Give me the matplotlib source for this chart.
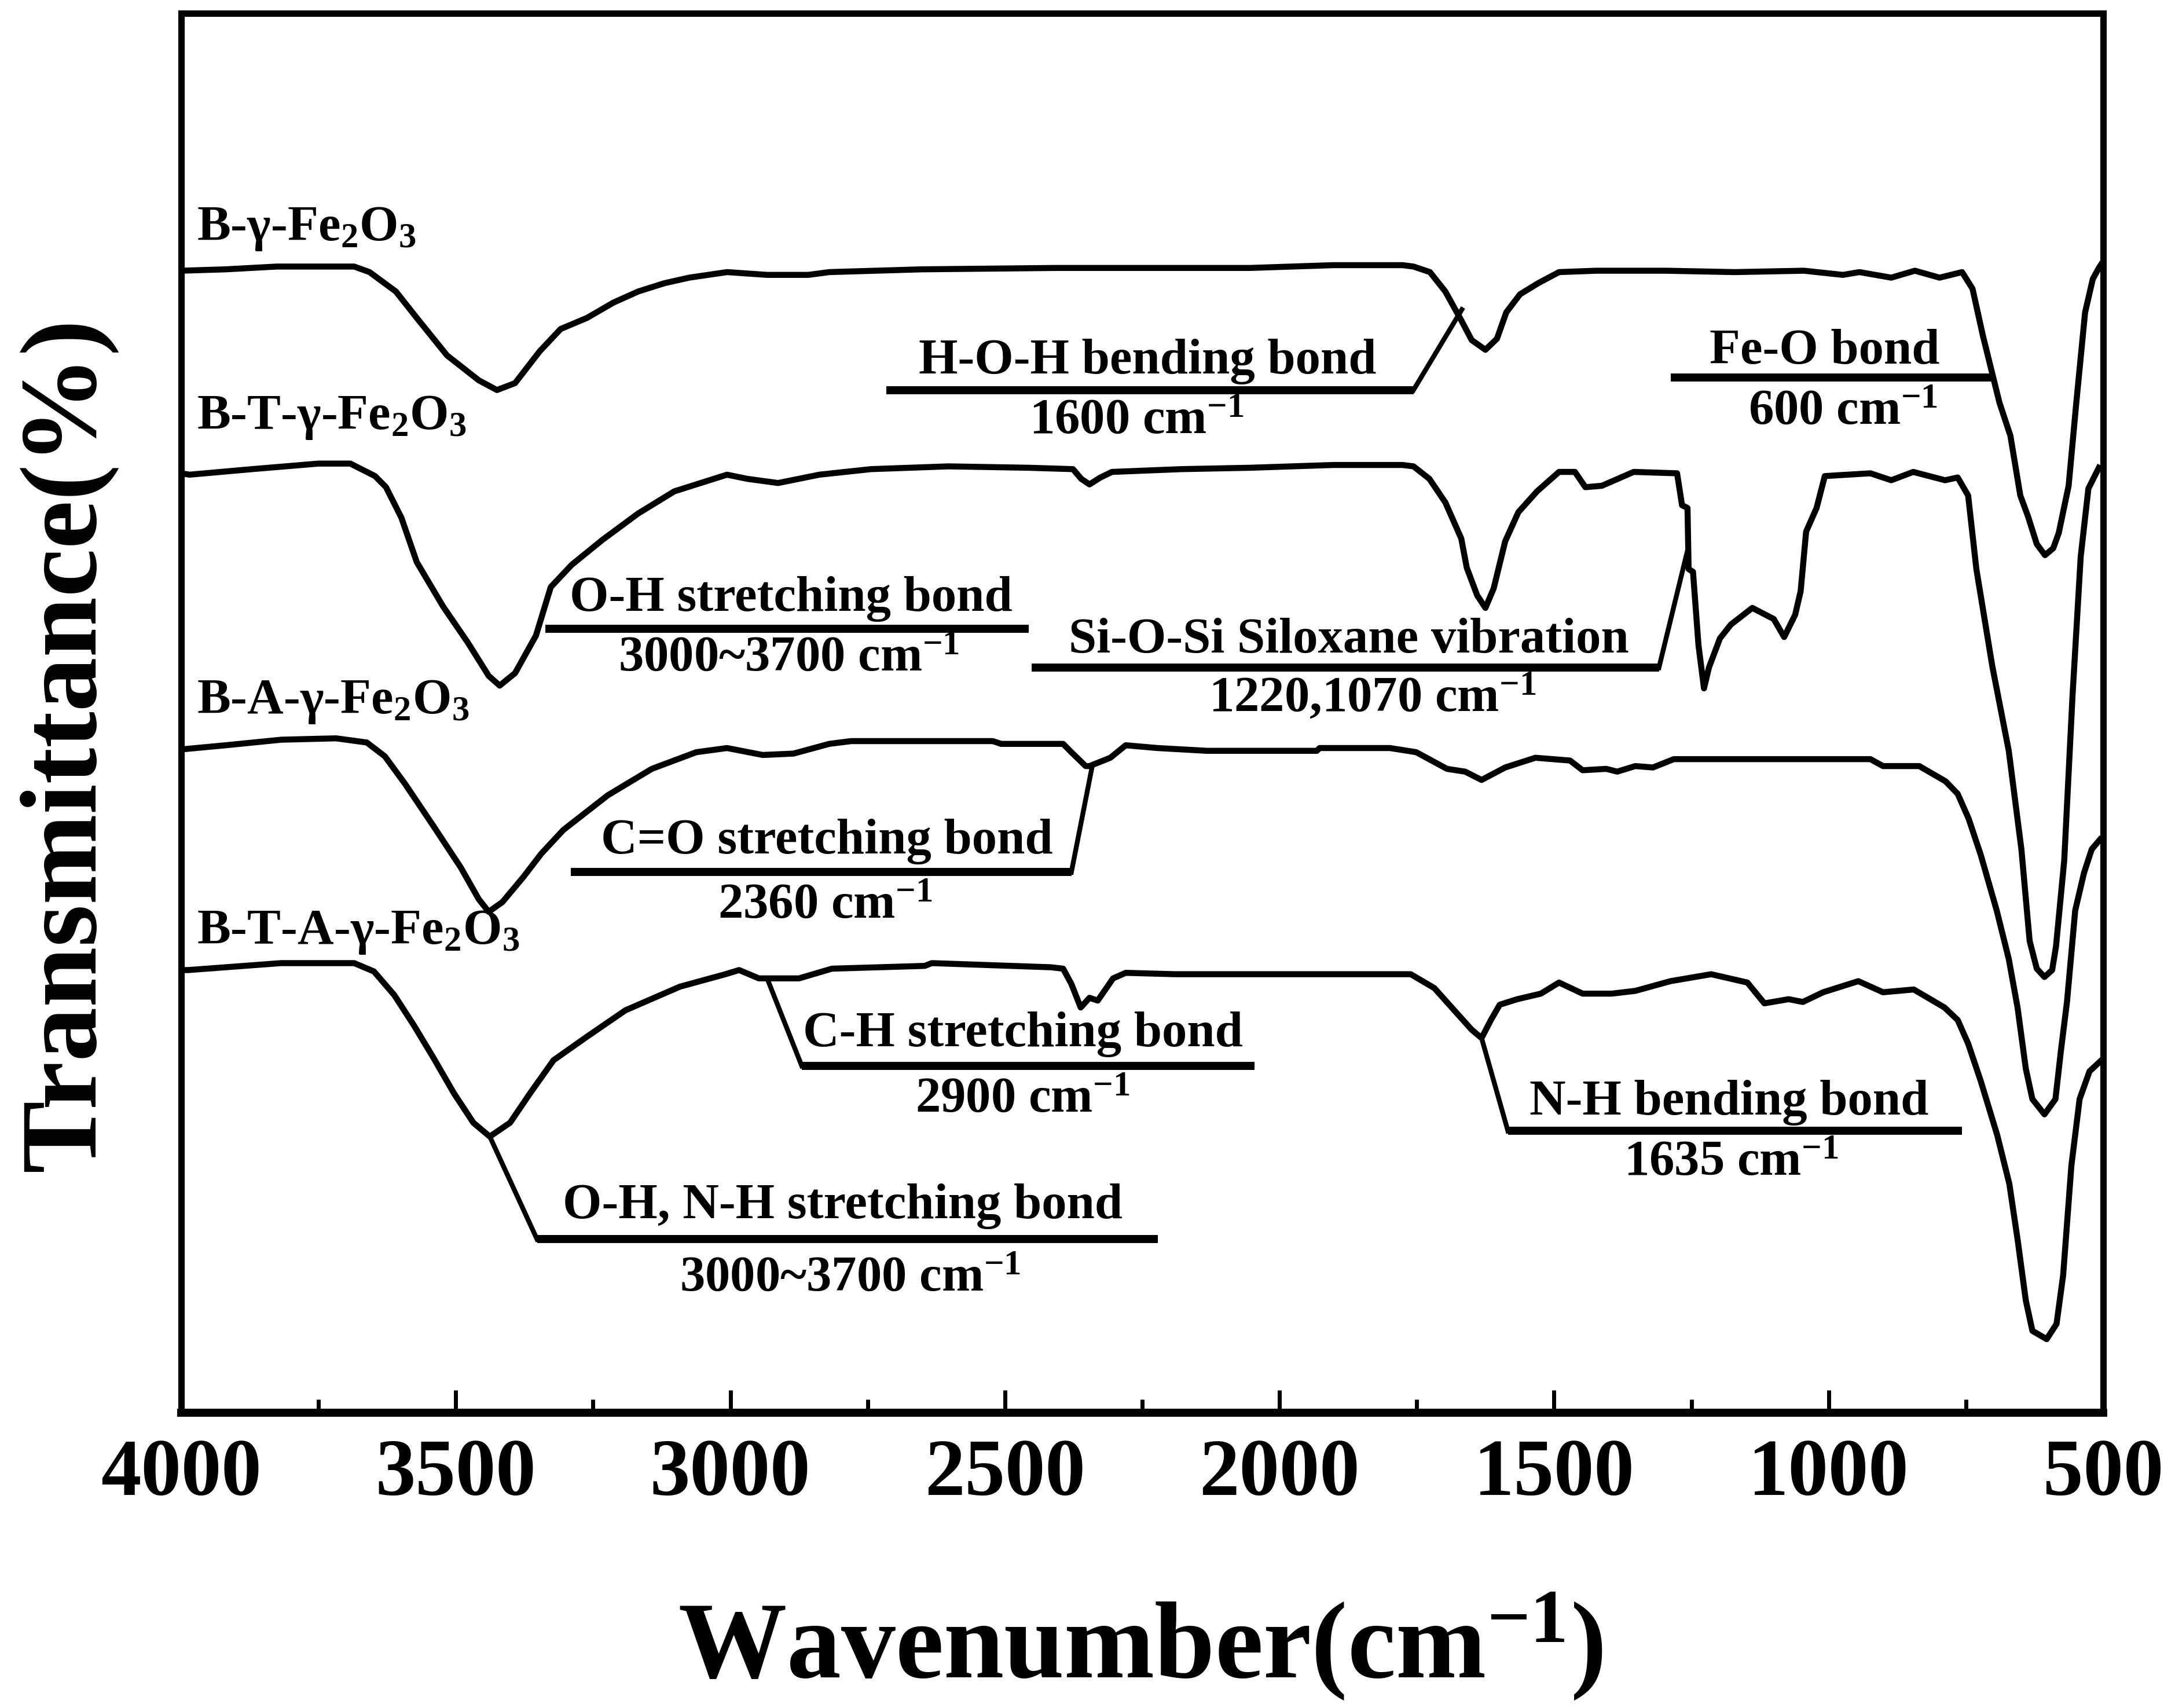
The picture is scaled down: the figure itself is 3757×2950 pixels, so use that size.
import matplotlib
matplotlib.use("Agg")
import matplotlib.pyplot as plt
from matplotlib.ticker import MultipleLocator

plt.rcParams["font.family"] = ["Liberation Serif", "DejaVu Serif"]
plt.rcParams["font.weight"] = "bold"
plt.rcParams["mathtext.fontset"] = "custom"
plt.rcParams["mathtext.rm"] = "Liberation Serif:bold"
plt.rcParams["mathtext.it"] = "Liberation Serif:bold:italic"
plt.rcParams["mathtext.bf"] = "Liberation Serif:bold"
plt.rcParams["mathtext.default"] = "rm"

# FTIR spectra (wavenumber in cm-1, stacked transmittance in a.u.)
wn_b = [4000, 3919, 3826, 3685, 3657, 3609, 3571, 3516, 3458, 3425, 3392, 3347, 3309, 3261,
        3213, 3168, 3120, 3075, 3006, 2933, 2858, 2820, 2651, 2406, 2053, 1902, 1776, 1756,
        1726, 1698, 1670, 1650, 1625, 1604, 1587, 1562, 1529, 1491, 1423, 1297, 1171, 1045,
        974, 944, 886, 843, 798, 757, 738, 719, 704, 689, 669, 651, 637, 621, 606, 591, 581,
        563, 549, 533, 519, 508, 503]
tr_b = [82.3, 82.4, 82.6, 82.6, 82.2, 80.8, 78.9, 76.2, 74.4, 73.7, 74.2, 76.5, 78.1, 78.9,
        80.0, 80.8, 81.4, 81.8, 82.2, 82.0, 82.0, 82.2, 82.4, 82.5, 82.5, 82.7, 82.7, 82.6,
        82.2, 80.8, 78.8, 77.3, 76.6, 77.4, 79.3, 80.6, 81.4, 82.2, 82.3, 82.3, 82.2, 82.3,
        82.0, 82.2, 81.8, 82.3, 81.8, 82.2, 81.0, 77.6, 75.2, 72.8, 70.4, 66.1, 64.6, 62.6,
        61.8, 62.3, 63.4, 66.8, 72.8, 79.3, 81.7, 82.5, 82.8]

wn_bt = [4000, 3985, 3871, 3750, 3692, 3647, 3627, 3599, 3571, 3523, 3478, 3440, 3420, 3392,
         3354, 3327, 3289, 3233, 3168, 3102, 3006, 2969, 2913, 2838, 2744, 2603, 2457, 2376,
         2361, 2346, 2326, 2305, 2179, 2053, 1902, 1776, 1756, 1727, 1698, 1669, 1659, 1640,
         1625, 1610, 1589, 1565, 1531, 1491, 1462, 1443, 1413, 1355, 1276, 1267, 1257, 1255,
         1247, 1237, 1227, 1218, 1198, 1178, 1139, 1100, 1081, 1061, 1051, 1041, 1022, 1007,
         924, 886, 846, 788, 765, 746, 731, 702, 672, 649, 634, 621, 607, 593, 586, 571, 556,
         541, 527, 508]
tr_bt = [67.7, 67.6, 68.0, 68.4, 68.4, 67.5, 66.7, 64.5, 61.3, 58.1, 55.5, 53.1, 52.4, 53.3,
         56.0, 59.5, 61.1, 62.9, 64.8, 66.4, 67.6, 67.3, 67.0, 67.6, 68.0, 68.2, 68.1, 68.0,
         67.3, 66.9, 67.4, 67.8, 68.0, 68.1, 68.3, 68.3, 68.2, 67.3, 65.6, 63.0, 60.9, 58.9,
         58.0, 59.4, 62.8, 64.9, 66.4, 67.8, 67.8, 66.7, 66.8, 67.8, 67.7, 65.4, 65.2, 60.8,
         60.6, 55.3, 52.2, 53.7, 55.8, 56.8, 58.0, 57.2, 55.9, 57.5, 59.2, 63.5, 65.2, 67.5,
         67.7, 67.2, 67.8, 67.2, 67.4, 66.1, 60.8, 53.8, 47.7, 40.6, 34.0, 32.0, 31.4, 31.9,
         33.6, 39.8, 51.6, 61.7, 66.6, 68.1]

wn_ba = [4000, 3919, 3818, 3718, 3662, 3629, 3592, 3541, 3491, 3458, 3440, 3415, 3377, 3344,
         3304, 3223, 3143, 3062, 3006, 2941, 2885, 2820, 2780, 2522, 2507, 2394, 2379, 2353,
         2346, 2308, 2280, 2222, 2132, 1932, 1927, 1799, 1751, 1695, 1662, 1632, 1589, 1534,
         1471, 1448, 1405, 1385, 1352, 1320, 1282, 924, 901, 835, 787, 765, 745, 723, 694,
         672, 656, 641, 629, 607, 587, 577, 566, 551, 535, 521, 506]
tr_ba = [47.8, 48.1, 48.5, 48.6, 48.3, 47.3, 45.3, 42.3, 39.3, 37.0, 36.1, 36.8, 38.6, 40.3,
         42.0, 44.5, 46.4, 47.6, 47.9, 47.4, 47.5, 48.2, 48.4, 48.4, 48.2, 48.2, 47.6, 46.6,
         46.6, 47.2, 48.1, 47.9, 47.7, 47.7, 47.9, 47.9, 47.6, 46.4, 46.2, 45.6, 46.5, 47.2,
         47.0, 46.3, 46.4, 46.2, 46.6, 46.5, 47.1, 47.1, 46.6, 46.6, 45.5, 44.6, 42.8, 40.2,
         36.2, 32.7, 29.2, 24.8, 22.6, 21.5, 22.6, 26.1, 29.6, 36.2, 38.9, 40.6, 41.3]

wn_bta = [4000, 3987, 3818, 3685, 3649, 3612, 3576, 3541, 3503, 3468, 3438, 3401, 3365, 3322,
          3261, 3191, 3092, 3009, 2984, 2948, 2875, 2815, 2646, 2633, 2416, 2394, 2379, 2362,
          2346, 2331, 2303, 2280, 2190, 1761, 1718, 1675, 1650, 1632, 1615, 1599, 1567, 1524,
          1491, 1448, 1395, 1352, 1288, 1214, 1148, 1117, 1073, 1047, 1010, 946, 901, 845, 789,
          765, 746, 723, 693, 671, 656, 641, 629, 603, 585, 573, 558, 543, 525, 506]
tr_bta = [31.9, 31.9, 32.4, 32.4, 31.8, 30.1, 27.9, 25.6, 23.0, 20.9, 19.9, 20.9, 23.0, 25.4,
          27.1, 29.0, 30.7, 31.6, 31.9, 31.3, 31.3, 32.0, 32.2, 32.4, 32.1, 32.0, 30.9, 29.2,
          29.9, 29.7, 31.3, 31.7, 31.6, 31.6, 30.6, 28.7, 27.6, 27.0, 28.3, 29.4, 29.8, 30.2,
          31.0, 30.2, 30.2, 30.4, 31.1, 31.6, 31.0, 29.5, 29.8, 29.6, 30.3, 31.1, 30.3, 30.5,
          29.2, 28.3, 26.6, 23.9, 20.0, 16.5, 12.5, 8.1, 5.9, 5.3, 6.4, 9.9, 17.8, 22.6, 24.6,
          25.3]

sample_names = ["B-γ-Fe$_2$O$_3$", "B-T-γ-Fe$_2$O$_3$",
                "B-A-γ-Fe$_2$O$_3$", "B-T-A-γ-Fe$_2$O$_3$"]
xticks = [4000, 3500, 3000, 2500, 2000, 1500, 1000, 500]

spectra = [(wn_b, tr_b), (wn_bt, tr_bt), (wn_ba, tr_ba), (wn_bta, tr_bta)]
name_y = [84.5, 70.9, 50.4, 33.8]

# band labels: title, value, x of title, x of value, y of title, y of value,
# bar (x0, x1, y), leader (x_from, x_to, y_to) or None
bands = [
    ("H-O-H bending bond", "1600 cm$^{-1}$", 2240, 2260, 74.9, 70.6,
     (2716, 1756, 73.7), (1756, 1668, 79.5)),
    ("Fe-O bond", "600 cm$^{-1}$", 1007, 974, 75.6, 71.3,
     (1287, 704, 74.6), None),
    ("O-H stretching bond", "3000~3700 cm$^{-1}$", 2890, 2894, 57.8, 53.5,
     (3337, 2457, 56.5), None),
    ("Si-O-Si Siloxane vibration", "1220,1070 cm$^{-1}$", 1874, 1831, 54.8, 50.6,
     (2451, 1309, 53.7), (1309, 1256, 62.3)),
    ("C=O stretching bond", "2360 cm$^{-1}$", 2824, 2827, 40.3, 35.7,
     (3291, 2379, 38.95), (2379, 2342, 46.4)),
    ("C-H stretching bond", "2900 cm$^{-1}$", 2467, 2468, 26.4, 21.7,
     (2870, 2046, 25.0), (2870, 2931, 31.1)),
    ("O-H, N-H stretching bond", "3000~3700 cm$^{-1}$", 2795, 2782, 14.0, 8.8,
     (3352, 2222, 12.5), (3352, 3438, 19.9)),
    ("N-H bending bond", "1635 cm$^{-1}$", 1181, 1178, 21.5, 17.1,
     (1584, 757, 20.3), (1584, 1632, 27.0)),
]

fig = plt.figure(figsize=(15.028, 11.8), dpi=250)
ax = fig.add_axes([0.0833, 0.1729, 0.8837, 0.8193])

for (wn, tr), name, ny in zip(spectra, sample_names, name_y):
    ax.plot(wn, tr, color="black", lw=3.0, solid_joinstyle="round")
    ax.text(3972, ny, name, fontsize=25, fontweight="bold", ha="left", va="baseline")

for title, value, tx, vx, ty, vy, bar, leader in bands:
    ax.plot([bar[0], bar[1]], [bar[2], bar[2]], color="black", lw=4.0,
            solid_capstyle="butt")
    if leader is not None:
        ax.plot([leader[0], leader[1]], [bar[2], leader[2]], color="black", lw=2.4)
    ax.text(tx, ty, title, fontsize=25, fontweight="bold", ha="center", va="baseline")
    ax.text(vx, vy, value, fontsize=25, fontweight="bold", ha="center", va="baseline")

ax.set_xlim(4000, 500)
ax.set_ylim(0, 100.85)
ax.set_xticks(xticks)
ax.xaxis.set_minor_locator(MultipleLocator(250))
ax.set_yticks([])
ax.tick_params(axis="x", which="major", direction="in", length=11.3, width=2,
               labelsize=40, pad=13, top=False)
ax.tick_params(axis="x", which="minor", direction="in", length=6.6, width=2, top=False)
for lab in ax.get_xticklabels():
    lab.set_fontweight("bold")
for side, sp in ax.spines.items():
    sp.set_linewidth(4.0 if side == "bottom" else 3.2)

ax.set_xlabel("Wavenumber(cm$^{-1}$)", fontsize=54, fontweight="bold", va="baseline")
ax.xaxis.set_label_coords(0.499, -0.189)
ax.set_ylabel("Transmittance(%)", fontsize=54, fontweight="bold", va="center")
ax.yaxis.set_label_coords(-0.0589, 0.4775)

plt.savefig("out.png", dpi=250)
plt.close()
